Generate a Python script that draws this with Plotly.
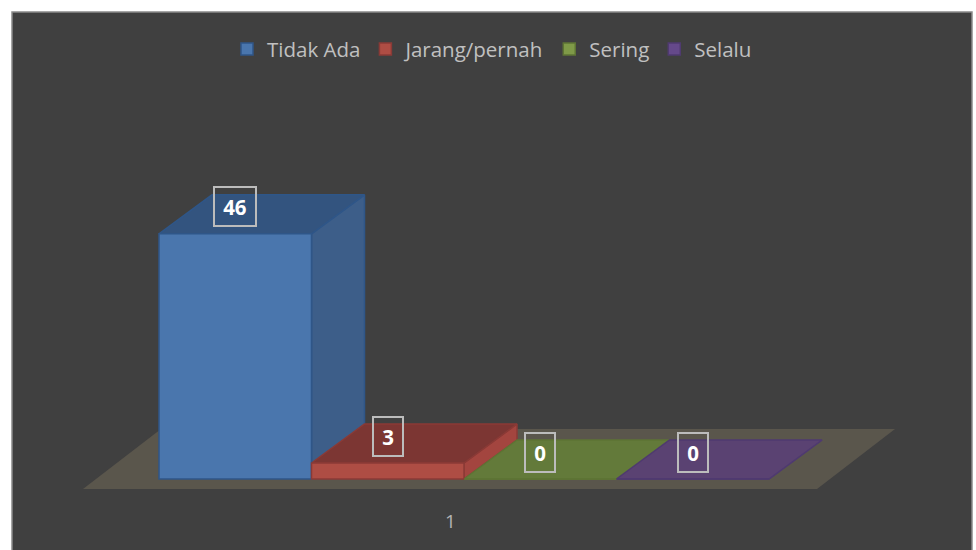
import plotly.graph_objects as go

# data
categories = ["1"]
series_names = ["Tidak Ada", "Jarang/pernah", "Sering", "Selalu"]
series_values = [46, 3, 0, 0]

# styles
front_colors = ["#4a76ad", "#ae4d44", "#7f9a48", "#65498a"]
top_colors = ["#33547f", "#7c3633", "#637a3a", "#5a4272"]
side_colors = ["#3d5e89", "#a3453f", "#637a3a", "#5a4272"]
edge_colors = ["#2f5688", "#8a3a36", "#5e7434", "#4f3a70"]

# pixel geometry of the chart frame, converted to axis units
W, H = 976, 550
L, R, T, B = 12, 972, 12, 550
X0_PX, UNIT_X = 159, 152.5
Y0_PX, UNIT_Y = 479, 5.33
DX = 53 / UNIT_X
DY = 39 / UNIT_Y
x_range = [(L - X0_PX) / UNIT_X, (R - X0_PX) / UNIT_X]
y_range = [(Y0_PX - B) / UNIT_Y, (Y0_PX - T) / UNIT_Y]

fig = go.Figure()

# floor
fl, fr, fb = (83 - X0_PX) / UNIT_X, (817 - X0_PX) / UNIT_X, (Y0_PX - 489) / UNIT_Y
fdx, fdy = 78 / UNIT_X, 60 / UNIT_Y
fig.add_trace(go.Scatter(
    x=[fl, fr, fr + fdx, fl + fdx, fl], y=[fb, fb, fb + fdy, fb + fdy, fb],
    mode="lines", fill="toself", fillcolor="#5a564c", line=dict(width=0),
    showlegend=False, hoverinfo="skip"))

# depth faces
for i, (name, v) in enumerate(zip(series_names, series_values)):
    x0, x1 = i, i + 1
    fig.add_trace(go.Scatter(
        x=[x1, x1 + DX, x1 + DX, x1, x1], y=[0, DY, v + DY, v, 0],
        mode="lines", fill="toself", fillcolor=side_colors[i],
        line=dict(color=edge_colors[i], width=1.5), showlegend=False, hoverinfo="skip"))
    fig.add_trace(go.Scatter(
        x=[x0, x1, x1 + DX, x0 + DX, x0], y=[v, v, v + DY, v + DY, v],
        mode="lines", fill="toself", fillcolor=top_colors[i],
        line=dict(color=edge_colors[i], width=1.5), showlegend=False, hoverinfo="skip"))

# front faces (real bars, on an overlaid axis pair so they sit above the depth faces)
for i, (name, v) in enumerate(zip(series_names, series_values)):
    fig.add_trace(go.Bar(
        x=[i + 0.5], y=[v], width=[1], name=name, xaxis="x2", yaxis="y2",
        marker=dict(color=front_colors[i], line=dict(color=edge_colors[i], width=1.5))))

# data labels
for i, v in enumerate(series_values):
    fig.add_annotation(
        x=i + 0.5, y=v + 27 / UNIT_Y, xref="x2", yref="y2", text=f"<b>{v}</b>",
        showarrow=False, font=dict(family="Open Sans", size=20.5, color="#ffffff"),
        width=38 if v >= 10 else 26, height=35, bordercolor="#bcbcbc", borderwidth=2)

# category label
fig.add_annotation(
    x=(450 - X0_PX) / UNIT_X, y=(Y0_PX - 521) / UNIT_Y, xref="x", yref="y",
    text=categories[0], showarrow=False, font=dict(family="Open Sans", size=19, color="#b4b4b4"))

axis = dict(visible=False, fixedrange=True)
fig.update_layout(
    width=W, height=H, margin=dict(l=L, r=W - R, t=T, b=H - B),
    paper_bgcolor="#ffffff", plot_bgcolor="#404040", showlegend=True,
    barmode="overlay",
    xaxis=dict(range=x_range, **axis), yaxis=dict(range=y_range, **axis),
    xaxis2=dict(range=x_range, overlaying="x", **axis),
    yaxis2=dict(range=y_range, overlaying="y", **axis),
    legend=dict(orientation="h", x=0.5, xanchor="center", y=0.968, yanchor="top",
                bgcolor="rgba(0,0,0,0)", font=dict(family="Open Sans", size=20.5, color="#c0c0c0")),
    shapes=[dict(type="rect", xref="paper", yref="paper", x0=0, x1=1, y0=-0.02, y1=1,
                 line=dict(color="#8a8a8a", width=1.5), layer="above")],
)
fig.write_html("out.html", config=dict(displayModeBar=False),
               post_script="document.body.style.margin='0';")
